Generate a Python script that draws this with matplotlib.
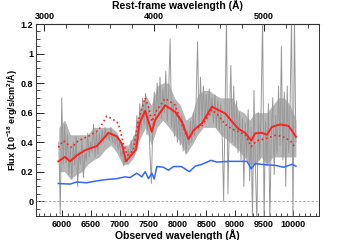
import numpy as np
import matplotlib.pyplot as plt
from matplotlib.ticker import MultipleLocator, FixedLocator

plt.rcParams['font.family'] = ['Liberation Sans', 'DejaVu Sans']
plt.rcParams['font.weight'] = 'bold'
plt.rcParams['mathtext.fontset'] = 'custom'
plt.rcParams['mathtext.bf'] = 'Liberation Sans:bold'
plt.rcParams['mathtext.rm'] = 'Liberation Sans:bold'
plt.rcParams['mathtext.default'] = 'bf'

#   Redshift (rest = observed / (1 + z))
z = 0.9

#   Observed spectrum, 25 A step starting at 5950 A
flux = [0.40, -0.09, 0.70, 0.25, 0.52, 0.26, 0.45, 0.18, 0.36, 0.15,
        0.40, 0.24, 0.44, 0.10, 0.34, 0.25, 0.42, 0.16, 0.33, 0.27,
        0.46, 0.30, 0.40, 0.33, 0.52, 0.30, 0.47, 0.32, 0.46, 0.38,
        0.48, 0.40, 0.50, 0.42, 0.47, 0.41, 0.50, 0.40, 0.46, 0.38,
        0.44, 0.35, 0.40, 0.30, 0.35, 0.24, 0.31, 0.26, 0.35, 0.29,
        0.41, 0.32, 0.44, 0.36, 0.58, 0.42, 0.66, 0.48, 0.70, 0.52,
        0.73, 0.45, 0.64, 0.34, 0.12, 0.50, 0.74, 0.54, 0.80, 0.58,
        0.84, 0.56, 0.76, 0.60, 0.88, 0.54, 0.74, 1.10, 0.50, 0.68,
        0.44, 0.66, 0.40, 0.60, 0.38, 0.58, 0.34, 0.52, 0.32, 0.48,
        0.38, 0.54, 0.40, 0.60, 0.44, 0.68, 1.08, 0.48, 0.84, 0.54,
        0.78, 0.52, 0.72, 0.55, 0.76, 0.58, 0.70, 0.53, 0.72, 0.50,
        0.68, 0.48, 0.66, 0.45, 0.00, 0.60, 1.25, 0.05, 0.55, 0.92,
        0.40, 0.78, 0.38, 0.68, 0.33, 0.60, 0.28, 0.56, 0.10, 0.53,
        0.30, 0.62, 0.14, 0.50, -0.15, 0.75, 0.24, -0.15, 0.60, 0.28,
        0.66, 1.25, -0.15, 0.54, 0.24, 0.66, -0.15, 0.46, 0.70, 0.18,
        0.58, 0.32, 0.78, 0.38, 1.05, 0.28, 0.74, 0.10, 0.78, 0.33,
        0.66, 1.25, -0.15, 1.25, 0.40]
wave = 5950 + 25 * np.arange(len(flux))

#   Lower / upper envelope of the noisy spectrum, 100 A step from 5950 A
env_lo = [0.20, 0.20, 0.15, 0.18, 0.20, 0.25, 0.28, 0.30, 0.35, 0.38, 0.33,
          0.25, 0.25, 0.30, 0.42, 0.50, 0.38, 0.50, 0.55, 0.50, 0.45, 0.40,
          0.32, 0.38, 0.45, 0.50, 0.50, 0.50, 0.45, 0.42, 0.38, 0.35, 0.30,
          0.25, 0.25, 0.30, 0.25, 0.30, 0.30, 0.30, 0.30, 0.30]
env_hi = [0.50, 0.55, 0.45, 0.45, 0.45, 0.45, 0.50, 0.50, 0.50, 0.50, 0.47,
          0.38, 0.38, 0.45, 0.62, 0.72, 0.65, 0.78, 0.80, 0.80, 0.70, 0.65,
          0.55, 0.58, 0.72, 0.75, 0.75, 0.72, 0.70, 0.70, 0.70, 0.62, 0.60,
          0.55, 0.60, 0.60, 0.60, 0.65, 0.70, 0.70, 0.65, 0.55]
w_env = 5950 + 100 * np.arange(len(env_lo))

#   Best-fit model (solid red)
w_fit = [5941, 6057, 6144, 6259, 6403, 6605, 6807, 6952, 7039, 7113, 7212, 7287,
         7345, 7443, 7500, 7559, 7616, 7789, 7962, 8078, 8193, 8279, 8337, 8424,
         8597, 8712, 8828, 8943, 9058, 9174, 9278, 9347, 9463, 9550, 9636, 9780,
         9924, 9994, 10052]
f_fit = [0.27, 0.30, 0.27, 0.31, 0.345, 0.373, 0.463, 0.44, 0.39, 0.27, 0.317, 0.35,
         0.527, 0.612, 0.54, 0.47, 0.55, 0.65, 0.605, 0.54, 0.42, 0.48, 0.50, 0.527,
         0.64, 0.617, 0.595, 0.54, 0.49, 0.463, 0.41, 0.46, 0.463, 0.45, 0.504, 0.52,
         0.51, 0.47, 0.436]

#   Second model (dotted red)
w_alt = [5941, 6028, 6173, 6288, 6461, 6634, 6778, 6865, 6980, 7067, 7136, 7240,
         7327, 7443, 7500, 7559, 7645, 7789, 7962, 8078, 8193, 8308, 8424, 8597,
         8712, 8828, 8943, 9058, 9174, 9278, 9376, 9492, 9578, 9693, 9808, 9953,
         10027]
f_alt = [0.364, 0.41, 0.364, 0.41, 0.44, 0.48, 0.576, 0.56, 0.527, 0.39, 0.31, 0.345,
         0.55, 0.70, 0.64, 0.54, 0.617, 0.696, 0.65, 0.52, 0.42, 0.49, 0.51, 0.62,
         0.58, 0.52, 0.49, 0.47, 0.45, 0.37, 0.41, 0.42, 0.43, 0.446, 0.44, 0.41,
         0.37]

#   Noise / error spectrum (blue)
w_err = [5941, 6144, 6259, 6432, 6605, 6778, 6952, 7096, 7182, 7298, 7385, 7443,
         7500, 7559, 7600, 7645, 7760, 7847, 7933, 8049, 8078, 8208, 8308, 8424,
         8583, 8683, 8885, 9203, 9278, 9347, 9520, 9693, 9838, 9982, 10052]
f_err = [0.12, 0.116, 0.13, 0.125, 0.138, 0.147, 0.153, 0.165, 0.16, 0.19, 0.165, 0.20,
         0.153, 0.19, 0.15, 0.235, 0.23, 0.21, 0.235, 0.235, 0.233, 0.20, 0.237, 0.25,
         0.277, 0.265, 0.27, 0.27, 0.22, 0.255, 0.247, 0.243, 0.23, 0.25, 0.237]

fig = plt.figure(figsize=(3.55, 2.40), dpi=100)
ax = fig.add_axes([0.1014, 0.1, 0.7972, 0.8])

ax.axhline(0, color='#999999', linestyle='--', linewidth=0.6, dashes=(3, 2))
ax.fill_between(w_env, env_lo, env_hi, color='#b6b6b6', linewidth=0)
ax.plot(wave, flux, color='#999999', linewidth=0.7)
ax.plot(w_err, f_err, color='#3366ff', linewidth=1.1)
ax.plot(w_alt, f_alt, color='#ff2020', linewidth=1.2, linestyle=':')
ax.plot(w_fit, f_fit, color='#ff2020', linewidth=1.4)

ax.set_xlim(5555, 10450)
ax.set_ylim(-0.1, 1.2)
ax.xaxis.set_major_locator(MultipleLocator(500))
ax.xaxis.set_minor_locator(MultipleLocator(100))
ax.yaxis.set_major_locator(FixedLocator([0, 0.2, 0.4, 0.6, 0.8, 1.0, 1.2]))
ax.yaxis.set_minor_locator(MultipleLocator(0.05))
ax.set_yticklabels(['0', '0.2', '0.4', '0.6', '0.8', '1', '1.2'])
ax.tick_params(axis='both', which='both', direction='in', labelsize=6.5, top=False, right=False)
ax.tick_params(axis='x', which='major', length=4, width=0.6, pad=3)
ax.tick_params(axis='x', which='minor', length=2, width=0.5)
ax.tick_params(axis='y', which='major', length=6, width=0.6, pad=2)
ax.tick_params(axis='y', which='minor', length=3, width=0.5)
for s in ax.spines.values():
    s.set_linewidth(0.7)
    s.set_color('#333333')

ax.set_xlabel("Observed wavelength (Å)", fontsize=7.5, fontweight='bold', labelpad=0)
ax.set_ylabel("Flux (10$^{-18}$ erg/s/cm$^2$/Å)", fontsize=6.5, fontweight='bold', labelpad=1)

top = ax.secondary_xaxis('top', functions=(lambda x: x / (1 + z), lambda x: x * (1 + z)))
top.xaxis.set_major_locator(FixedLocator([3000, 4000, 5000]))
top.xaxis.set_minor_locator(FixedLocator(np.arange(2800, 5600, 200)))
top.tick_params(axis='x', which='major', direction='in', length=5, width=0.6, labelsize=6.5, pad=2)
top.tick_params(axis='x', which='minor', direction='in', length=3, width=0.5)
top.set_xlabel("Rest-frame wavelength (Å)", fontsize=7.5, fontweight='bold', labelpad=2)

plt.savefig('out.png', dpi=100)
